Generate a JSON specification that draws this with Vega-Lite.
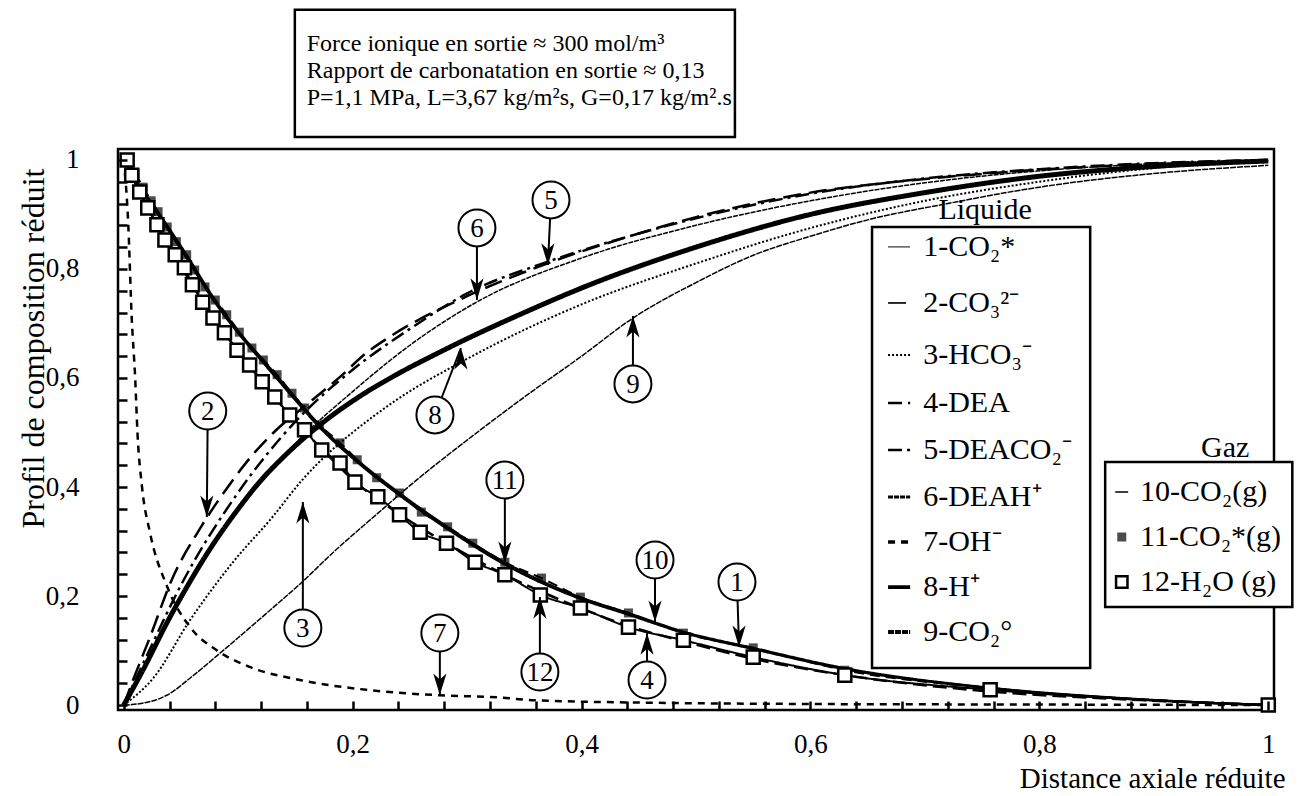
{
"$schema": "https://vega.github.io/schema/vega-lite/v6.json",
"width": 1156, "height": 561,
"autosize": {"type": "none"},
"padding": {"left": 118, "top": 149, "right": 24, "bottom": 86},
"background": "white",
"config": {"font": "Liberation Serif", "view": {"stroke": "black", "strokeWidth": 2.5}},
"datasets": {
"curves": [
{"s":"1","x":0,"y":1},{"s":"1","x":0.01,"y":0.965},{"s":"1","x":0.03,"y":0.905},{"s":"1","x":0.055,"y":0.826},{"s":"1","x":0.08,"y":0.743},{"s":"1","x":0.101,"y":0.684},{"s":"1","x":0.122,"y":0.633},{"s":"1","x":0.147,"y":0.572},{"s":"1","x":0.171,"y":0.514},{"s":"1","x":0.204,"y":0.45},{"s":"1","x":0.241,"y":0.389},{"s":"1","x":0.283,"y":0.327},{"s":"1","x":0.333,"y":0.262},{"s":"1","x":0.399,"y":0.198},{"s":"1","x":0.441,"y":0.169},{"s":"1","x":0.489,"y":0.135},{"s":"1","x":0.55,"y":0.105},{"s":"1","x":0.63,"y":0.068},{"s":"1","x":0.757,"y":0.032},{"s":"1","x":0.88,"y":0.012},{"s":"1","x":1,"y":0},
{"s":"10","x":0,"y":1},{"s":"10","x":0.01,"y":0.962},{"s":"10","x":0.03,"y":0.9},{"s":"10","x":0.055,"y":0.82},{"s":"10","x":0.08,"y":0.738},{"s":"10","x":0.101,"y":0.68},{"s":"10","x":0.122,"y":0.628},{"s":"10","x":0.147,"y":0.567},{"s":"10","x":0.171,"y":0.51},{"s":"10","x":0.204,"y":0.446},{"s":"10","x":0.241,"y":0.385},{"s":"10","x":0.283,"y":0.323},{"s":"10","x":0.333,"y":0.258},{"s":"10","x":0.399,"y":0.195},{"s":"10","x":0.441,"y":0.166},{"s":"10","x":0.489,"y":0.133},{"s":"10","x":0.55,"y":0.103},{"s":"10","x":0.63,"y":0.066},{"s":"10","x":0.757,"y":0.031},{"s":"10","x":0.88,"y":0.011},{"s":"10","x":1,"y":0},
{"s":"4","x":0,"y":1},{"s":"4","x":0.014,"y":0.941},{"s":"4","x":0.036,"y":0.853},{"s":"4","x":0.06,"y":0.771},{"s":"4","x":0.088,"y":0.683},{"s":"4","x":0.121,"y":0.593},{"s":"4","x":0.145,"y":0.532},{"s":"4","x":0.173,"y":0.47},{"s":"4","x":0.202,"y":0.41},{"s":"4","x":0.241,"y":0.35},{"s":"4","x":0.282,"y":0.297},{"s":"4","x":0.333,"y":0.239},{"s":"4","x":0.399,"y":0.178},{"s":"4","x":0.441,"y":0.145},{"s":"4","x":0.489,"y":0.117},{"s":"4","x":0.55,"y":0.085},{"s":"4","x":0.63,"y":0.055},{"s":"4","x":0.757,"y":0.025},{"s":"4","x":0.88,"y":0.01},{"s":"4","x":1,"y":0},
{"s":"11","x":0.003,"y":1.0},{"s":"11","x":0.01,"y":0.975},{"s":"11","x":0.017,"y":0.95},{"s":"11","x":0.024,"y":0.925},{"s":"11","x":0.03,"y":0.905},{"s":"11","x":0.038,"y":0.877},{"s":"11","x":0.046,"y":0.85},{"s":"11","x":0.055,"y":0.826},{"s":"11","x":0.062,"y":0.798},{"s":"11","x":0.071,"y":0.767},{"s":"11","x":0.08,"y":0.743},{"s":"11","x":0.09,"y":0.716},{"s":"11","x":0.101,"y":0.684},{"s":"11","x":0.112,"y":0.655},{"s":"11","x":0.122,"y":0.633},{"s":"11","x":0.134,"y":0.606},{"s":"11","x":0.147,"y":0.572},{"s":"11","x":0.158,"y":0.545},{"s":"11","x":0.171,"y":0.514},{"s":"11","x":0.189,"y":0.481},{"s":"11","x":0.204,"y":0.45},{"s":"11","x":0.221,"y":0.417},{"s":"11","x":0.241,"y":0.389},{"s":"11","x":0.26,"y":0.354},{"s":"11","x":0.283,"y":0.327},{"s":"11","x":0.305,"y":0.297},{"s":"11","x":0.333,"y":0.262},{"s":"11","x":0.365,"y":0.233},{"s":"11","x":0.399,"y":0.198},{"s":"11","x":0.441,"y":0.169},{"s":"11","x":0.489,"y":0.132},{"s":"11","x":0.55,"y":0.105},{"s":"11","x":0.63,"y":0.064},{"s":"11","x":0.757,"y":0.031},{"s":"11","x":1,"y":0},
{"s":"12","x":0.003,"y":1.0},{"s":"12","x":0.007,"y":0.972},{"s":"12","x":0.014,"y":0.941},{"s":"12","x":0.021,"y":0.912},{"s":"12","x":0.029,"y":0.881},{"s":"12","x":0.036,"y":0.853},{"s":"12","x":0.045,"y":0.826},{"s":"12","x":0.053,"y":0.802},{"s":"12","x":0.06,"y":0.771},{"s":"12","x":0.069,"y":0.739},{"s":"12","x":0.078,"y":0.71},{"s":"12","x":0.088,"y":0.683},{"s":"12","x":0.099,"y":0.651},{"s":"12","x":0.11,"y":0.624},{"s":"12","x":0.121,"y":0.593},{"s":"12","x":0.132,"y":0.565},{"s":"12","x":0.145,"y":0.532},{"s":"12","x":0.158,"y":0.505},{"s":"12","x":0.173,"y":0.468},{"s":"12","x":0.189,"y":0.444},{"s":"12","x":0.202,"y":0.409},{"s":"12","x":0.222,"y":0.382},{"s":"12","x":0.241,"y":0.349},{"s":"12","x":0.259,"y":0.317},{"s":"12","x":0.282,"y":0.297},{"s":"12","x":0.307,"y":0.262},{"s":"12","x":0.333,"y":0.239},{"s":"12","x":0.364,"y":0.202},{"s":"12","x":0.399,"y":0.178},{"s":"12","x":0.441,"y":0.143},{"s":"12","x":0.489,"y":0.119},{"s":"12","x":0.55,"y":0.088},{"s":"12","x":0.63,"y":0.055},{"s":"12","x":0.757,"y":0.028},{"s":"12","x":1,"y":0},
{"s":"2","x":0,"y":0},{"s":"2","x":0.008,"y":0.045},{"s":"2","x":0.023,"y":0.125},{"s":"2","x":0.042,"y":0.23},{"s":"2","x":0.067,"y":0.325},{"s":"2","x":0.091,"y":0.4},{"s":"2","x":0.111,"y":0.455},{"s":"2","x":0.131,"y":0.5},{"s":"2","x":0.165,"y":0.56},{"s":"2","x":0.189,"y":0.602},{"s":"2","x":0.212,"y":0.646},{"s":"2","x":0.232,"y":0.675},{"s":"2","x":0.3,"y":0.75},{"s":"2","x":0.37,"y":0.81},{"s":"2","x":0.45,"y":0.865},{"s":"2","x":0.5,"y":0.895},{"s":"2","x":0.6,"y":0.94},{"s":"2","x":0.7,"y":0.965},{"s":"2","x":0.8,"y":0.982},{"s":"2","x":0.9,"y":0.993},{"s":"2","x":1,"y":1.0},
{"s":"5","x":0,"y":0},{"s":"5","x":0.02,"y":0.09},{"s":"5","x":0.05,"y":0.22},{"s":"5","x":0.1,"y":0.39},{"s":"5","x":0.15,"y":0.52},{"s":"5","x":0.2,"y":0.615},{"s":"5","x":0.25,"y":0.69},{"s":"5","x":0.3,"y":0.755},{"s":"5","x":0.373,"y":0.815},{"s":"5","x":0.45,"y":0.865},{"s":"5","x":0.5,"y":0.893},{"s":"5","x":0.6,"y":0.938},{"s":"5","x":0.7,"y":0.966},{"s":"5","x":0.8,"y":0.983},{"s":"5","x":0.9,"y":0.994},{"s":"5","x":1,"y":1.0},
{"s":"6","x":0,"y":0},{"s":"6","x":0.02,"y":0.08},{"s":"6","x":0.05,"y":0.2},{"s":"6","x":0.1,"y":0.36},{"s":"6","x":0.15,"y":0.48},{"s":"6","x":0.2,"y":0.575},{"s":"6","x":0.25,"y":0.66},{"s":"6","x":0.309,"y":0.74},{"s":"6","x":0.4,"y":0.82},{"s":"6","x":0.5,"y":0.88},{"s":"6","x":0.6,"y":0.925},{"s":"6","x":0.7,"y":0.958},{"s":"6","x":0.8,"y":0.98},{"s":"6","x":0.9,"y":0.993},{"s":"6","x":1,"y":1.0},
{"s":"8","x":0,"y":0},{"s":"8","x":0.017,"y":0.065},{"s":"8","x":0.038,"y":0.152},{"s":"8","x":0.055,"y":0.216},{"s":"8","x":0.075,"y":0.285},{"s":"8","x":0.099,"y":0.357},{"s":"8","x":0.119,"y":0.41},{"s":"8","x":0.142,"y":0.46},{"s":"8","x":0.172,"y":0.515},{"s":"8","x":0.206,"y":0.566},{"s":"8","x":0.239,"y":0.607},{"s":"8","x":0.272,"y":0.643},{"s":"8","x":0.3,"y":0.672},{"s":"8","x":0.35,"y":0.72},{"s":"8","x":0.4,"y":0.765},{"s":"8","x":0.5,"y":0.84},{"s":"8","x":0.6,"y":0.9},{"s":"8","x":0.7,"y":0.94},{"s":"8","x":0.8,"y":0.97},{"s":"8","x":0.9,"y":0.988},{"s":"8","x":1,"y":0.998},
{"s":"3","x":0,"y":0},{"s":"3","x":0.026,"y":0.05},{"s":"3","x":0.058,"y":0.156},{"s":"3","x":0.095,"y":0.261},{"s":"3","x":0.13,"y":0.345},{"s":"3","x":0.156,"y":0.413},{"s":"3","x":0.183,"y":0.47},{"s":"3","x":0.2,"y":0.5},{"s":"3","x":0.235,"y":0.555},{"s":"3","x":0.3,"y":0.635},{"s":"3","x":0.4,"y":0.735},{"s":"3","x":0.5,"y":0.81},{"s":"3","x":0.6,"y":0.875},{"s":"3","x":0.7,"y":0.925},{"s":"3","x":0.8,"y":0.96},{"s":"3","x":0.9,"y":0.985},{"s":"3","x":1,"y":0.998},
{"s":"9","x":0,"y":0},{"s":"9","x":0.015,"y":0.003},{"s":"9","x":0.0376,"y":0.018},{"s":"9","x":0.06,"y":0.053},{"s":"9","x":0.084,"y":0.095},{"s":"9","x":0.13,"y":0.178},{"s":"9","x":0.155,"y":0.224},{"s":"9","x":0.183,"y":0.28},{"s":"9","x":0.221,"y":0.35},{"s":"9","x":0.256,"y":0.413},{"s":"9","x":0.3,"y":0.486},{"s":"9","x":0.35,"y":0.565},{"s":"9","x":0.4,"y":0.64},{"s":"9","x":0.445,"y":0.71},{"s":"9","x":0.5,"y":0.775},{"s":"9","x":0.55,"y":0.825},{"s":"9","x":0.6,"y":0.86},{"s":"9","x":0.65,"y":0.89},{"s":"9","x":0.72,"y":0.92},{"s":"9","x":0.8,"y":0.95},{"s":"9","x":0.9,"y":0.975},{"s":"9","x":1,"y":0.99},
{"s":"7","x":0,"y":1},{"s":"7","x":0.004,"y":0.88},{"s":"7","x":0.007,"y":0.71},{"s":"7","x":0.01,"y":0.6},{"s":"7","x":0.012,"y":0.5},{"s":"7","x":0.016,"y":0.4},{"s":"7","x":0.023,"y":0.316},{"s":"7","x":0.038,"y":0.217},{"s":"7","x":0.058,"y":0.143},{"s":"7","x":0.081,"y":0.101},{"s":"7","x":0.11,"y":0.07},{"s":"7","x":0.154,"y":0.046},{"s":"7","x":0.212,"y":0.028},{"s":"7","x":0.276,"y":0.018},{"s":"7","x":0.329,"y":0.014},{"s":"7","x":0.357,"y":0.009},{"s":"7","x":0.475,"y":0.004},{"s":"7","x":0.6,"y":0.002},{"s":"7","x":0.8,"y":0.001},{"s":"7","x":1,"y":0}
],
"notes": [
{"n":"2","x":0.0734,"y":0.5394,"x2":0.0726,"y2":0.345,"dir":"down"},
{"n":"3","x":0.1565,"y":0.1413,"x2":0.1565,"y2":0.3725,"dir":"up"},
{"n":"7","x":0.2762,"y":0.1321,"x2":0.2762,"y2":0.0183,"dir":"down"},
{"n":"11","x":0.333,"y":0.4128,"x2":0.333,"y2":0.2606,"dir":"down"},
{"n":"12","x":0.3636,"y":0.0606,"x2":0.3636,"y2":0.1982,"dir":"up"},
{"n":"10","x":0.4642,"y":0.266,"x2":0.4642,"y2":0.1523,"dir":"down"},
{"n":"1","x":0.5358,"y":0.2257,"x2":0.5376,"y2":0.1064,"dir":"down"},
{"n":"4","x":0.4572,"y":0.0459,"x2":0.4572,"y2":0.1321,"dir":"up"},
{"n":"8","x":0.2719,"y":0.5321,"x2":0.2946,"y2":0.655,"dir":"up"},
{"n":"9","x":0.4449,"y":0.589,"x2":0.4449,"y2":0.7138,"dir":"up"},
{"n":"6","x":0.3086,"y":0.8752,"x2":0.3086,"y2":0.7431,"dir":"down"},
{"n":"5","x":0.3733,"y":0.9266,"x2":0.3706,"y2":0.8073,"dir":"down"}
],
"boxes": [
{"b":"top","x":0.1495,"x2":0.534,"y":1.0422,"y2":1.2752},
{"b":"liquide","x":0.6538,"x2":0.8444,"y":0.0679,"y2":0.877},
{"b":"gaz","x":0.8575,"x2":1.021,"y":0.1798,"y2":0.4459}
],
"legendLines": [
{"s":"1","x":0.6678,"x2":0.6871,"y":0.8404},
{"s":"2","x":0.6678,"x2":0.6871,"y":0.7376},
{"s":"3","x":0.6678,"x2":0.6871,"y":0.6422},
{"s":"4","x":0.6678,"x2":0.6871,"y":0.5541},
{"s":"5","x":0.6678,"x2":0.6871,"y":0.4679},
{"s":"6","x":0.6678,"x2":0.6871,"y":0.3817},
{"s":"7","x":0.6678,"x2":0.6871,"y":0.2991},
{"s":"8","x":0.6678,"x2":0.6871,"y":0.2165},
{"s":"9","x":0.6678,"x2":0.6871,"y":0.1339},
{"s":"10","x":0.8663,"x2":0.8776,"y":0.3908}
],
"legendMarks": [
{"s":"11","x":0.872,"y":0.3083},
{"s":"12","x":0.872,"y":0.2257}
],
"legendText": [
{"x":0.6985,"y":0.8404,"t":"1-CO₂*"},
{"x":0.6985,"y":0.7376,"t":"2-CO₃²⁻"},
{"x":0.6985,"y":0.6422,"t":"3-HCO₃⁻"},
{"x":0.6985,"y":0.5541,"t":"4-DEA"},
{"x":0.6985,"y":0.4679,"t":"5-DEACO₂⁻"},
{"x":0.6985,"y":0.3817,"t":"6-DEAH⁺"},
{"x":0.6985,"y":0.2991,"t":"7-OH⁻"},
{"x":0.6985,"y":0.2165,"t":"8-H⁺"},
{"x":0.6985,"y":0.1339,"t":"9-CO₂°"},
{"x":0.888,"y":0.3908,"t":"10-CO₂(g)"},
{"x":0.888,"y":0.3083,"t":"11-CO₂*(g)"},
{"x":0.888,"y":0.2257,"t":"12-H₂O (g)"}
],
"headers": [
{"x":0.7526,"y":0.9083,"t":"Liquide"},
{"x":0.9624,"y":0.4716,"t":"Gaz"}
],
"boxText": [
{"x":0.1599,"y":1.2128,"t":"Force ionique en sortie ≈ 300 mol/m³"},
{"x":0.1599,"y":1.1633,"t":"Rapport de carbonatation en sortie ≈ 0,13"},
{"x":0.1599,"y":1.1138,"t":"P=1,1 MPa, L=3,67 kg/m²s, G=0,17 kg/m².s"}
]
},
"encoding": {
"x": {"field": "x", "type": "quantitative", "scale": {"domain": [-0.005, 1.005], "nice": false, "zero": false},
 "axis": {"values": [0,0.04,0.08,0.12,0.16,0.2,0.24,0.28,0.32,0.36,0.4,0.44,0.48,0.52,0.56,0.6,0.64,0.68,0.72,0.76,0.8,0.84,0.88,0.92,0.96,1],
  "labelExpr": "datum.value == 0 ? '0' : datum.value == 1 ? '1' : (abs(datum.value*5 - round(datum.value*5)) < 0.001 ? replace(format(datum.value, '.1f'), '.', ',') : '')",
  "domain": false, "grid": false, "ticks": true, "offset": -9, "tickSize": 9, "tickWidth": 2.5, "tickColor": "black", "tickOpacity": 1, "zindex": 1,
  "labelFontSize": 27, "labelColor": "black", "labelPadding": 21, "labelOverlap": false, "labelFlush": false,
  "title": "Distance axiale réduite", "titleFontSize": 29, "titleFontWeight": "normal", "titleColor": "black",
  "titleX": 1167, "titleY": 77, "titleAlign": "right", "titleBaseline": "middle"}},
"y": {"field": "y", "type": "quantitative", "scale": {"domain": [-0.009, 1.02], "nice": false, "zero": false},
 "axis": {"values": [0,0.04,0.08,0.12,0.16,0.2,0.24,0.28,0.32,0.36,0.4,0.44,0.48,0.52,0.56,0.6,0.64,0.68,0.72,0.76,0.8,0.84,0.88,0.92,0.96,1],
  "labelExpr": "datum.value == 0 ? '0' : datum.value == 1 ? '1' : (abs(datum.value*5 - round(datum.value*5)) < 0.001 ? replace(format(datum.value, '.1f'), '.', ',') : '')",
  "domain": false, "grid": false, "ticks": true, "offset": -9, "tickSize": 9, "tickWidth": 2.5, "tickColor": "black", "tickOpacity": 1, "zindex": 1,
  "labelFontSize": 27, "labelColor": "black", "labelPadding": 39, "labelOverlap": false, "labelFlush": false,
  "title": "Profil de composition réduit", "titleFontSize": 32, "titleFontWeight": "normal", "titleColor": "black",
  "titleX": -94, "titleY": 199, "titleAngle": 270, "titleAlign": "center", "titleBaseline": "middle"}}
},
"layer": [
{"data": {"name": "curves"}, "mark": {"type": "line", "color": "black", "clip": true, "interpolate": "monotone"},
 "encoding": {
  "strokeDash": {"field": "s", "type": "nominal", "legend": null,
   "scale": {"domain": ["1","2","3","4","5","6","7","8","9","10","11","12"],
    "range": [[1,0],[18,8],[2,2],[14,6],[14,5,3,5],[5,1],[7,6],[1,0],[6,1],[1,0],[10,6],[1,0]]}},
  "strokeWidth": {"field": "s", "type": "nominal", "legend": null,
   "scale": {"type": "ordinal", "domain": ["1","2","3","4","5","6","7","8","9","10","11","12"],
    "range": [2,2.5,2,2.5,2.5,1.5,2.5,5,1.5,2.5,2,2]}}}},
{"data": {"name": "curves"}, "transform": [{"filter": "datum.s == '11'"}],
 "mark": {"type": "point", "shape": "square", "filled": true, "color": "black", "size": 81, "clip": true}},
{"data": {"name": "curves"}, "transform": [{"filter": "datum.s == '12'"}],
 "mark": {"type": "point", "shape": "square", "filled": true, "fill": "white", "stroke": "black", "strokeWidth": 2.5, "size": 170, "opacity": 1, "clip": false}},
{"data": {"name": "notes"}, "mark": {"type": "rule", "color": "black", "strokeWidth": 2},
 "encoding": {"x2": {"field": "x2"}, "y2": {"field": "y2"}}},
{"data": {"name": "notes"}, "mark": {"type": "point", "filled": true, "color": "black", "size": 576, "opacity": 1},
 "encoding": {
  "x": {"field": "x2", "type": "quantitative", "scale": {"domain": [-0.005, 1.005], "nice": false, "zero": false}},
  "y": {"field": "y2", "type": "quantitative", "scale": {"domain": [-0.009, 1.02], "nice": false, "zero": false}},
  "shape": {"field": "dir", "type": "nominal", "legend": null,
   "scale": {"domain": ["down","up"], "range": ["M0,0L-0.55,-1.8L0,-1.3L0.55,-1.8Z","M0,0L-0.55,1.8L0,1.3L0.55,1.8Z"]}}}},
{"data": {"name": "notes"}, "mark": {"type": "point", "shape": "circle", "filled": true, "fill": "white", "stroke": "black", "strokeWidth": 2, "size": 1369, "opacity": 1}},
{"data": {"name": "notes"}, "mark": {"type": "text", "fontSize": 27, "align": "center", "baseline": "middle", "dy": 1, "color": "black"},
 "encoding": {"text": {"field": "n"}}},
{"data": {"name": "boxes"}, "mark": {"type": "rect", "fill": "white", "stroke": "black", "strokeWidth": 2.5, "clip": false},
 "encoding": {"x2": {"field": "x2"}, "y2": {"field": "y2"}}},
{"data": {"name": "legendLines"}, "mark": {"type": "rule", "color": "black", "clip": false},
 "encoding": {"x2": {"field": "x2"},
  "strokeDash": {"field": "s", "type": "nominal", "legend": null},
  "strokeWidth": {"field": "s", "type": "nominal", "legend": null}}},
{"data": {"name": "legendMarks"}, "transform": [{"filter": "datum.s == '11'"}],
 "mark": {"type": "point", "shape": "square", "filled": true, "color": "black", "size": 81, "clip": false}},
{"data": {"name": "legendMarks"}, "transform": [{"filter": "datum.s == '12'"}],
 "mark": {"type": "point", "shape": "square", "filled": true, "fill": "white", "stroke": "black", "strokeWidth": 2.5, "size": 130, "opacity": 1, "clip": false}},
{"data": {"name": "legendText"}, "mark": {"type": "text", "fontSize": 30, "align": "left", "baseline": "middle", "color": "black", "clip": false},
 "encoding": {"text": {"field": "t"}}},
{"data": {"name": "headers"}, "mark": {"type": "text", "fontSize": 30, "align": "center", "baseline": "middle", "color": "black", "clip": false},
 "encoding": {"text": {"field": "t"}}},
{"data": {"name": "boxText"}, "mark": {"type": "text", "fontSize": 24, "align": "left", "baseline": "middle", "color": "black", "clip": false},
 "encoding": {"text": {"field": "t"}}}
]
}
